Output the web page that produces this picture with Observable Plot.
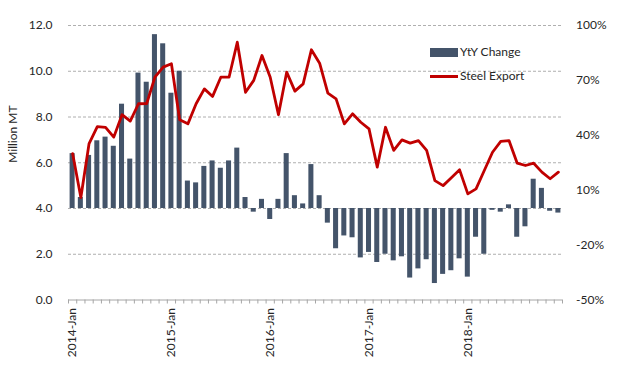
<!DOCTYPE html>
<html><head><meta charset="utf-8">
<script src="https://cdn.jsdelivr.net/npm/d3@7"></script>
<script src="https://cdn.jsdelivr.net/npm/@observablehq/plot@0.6"></script>
<style>
body{margin:0;background:#fff;font-family:Lato,sans-serif;}
#wrap{position:relative;width:621px;height:373px;}
.lg{position:absolute;font:12px Lato,sans-serif;color:#262626;line-height:14px;white-space:nowrap;}
.sw{position:absolute;}
</style></head><body><div id="wrap"></div>
<script>
const years = [2014, 2015, 2016, 2017, 2018];
const monthNames = ["Jan","Feb","Mar","Apr","May","Jun","Jul","Aug","Sep","Oct","Nov","Dec"];
// YtY change, percent (right axis)
const yoyChange = [
  30, 6, 29, 37, 39, 34, 57, 27, 74, 69, 95, 90,
  63, 75, 15, 14, 23, 26, 22, 26, 33, 6, -2, 5,
  -6, 5, 30, 7, 2.5, 24, 7, -8, -22, -15, -16, -27,
  -24, -29.5, -25, -28.6, -26.4, -38, -33, -28, -41, -36, -34, -27.5,
  -37.5, -15.7, -25, -1, -2, 2, -15.7, -10, 16, 11, -1.5, -2.5
];
// Steel export, million MT (left axis)
const steelExport = [
  6.4, 4.48, 6.84, 7.58, 7.55, 7.12, 8.1, 7.82, 8.58, 8.59, 9.74, 10.18,
  10.33, 7.88, 7.7, 8.58, 9.23, 8.9, 9.74, 9.74, 11.27, 9.08, 9.6, 10.69,
  9.74, 8.1, 9.96, 9.13, 9.45, 10.94, 10.35, 9.04, 8.79, 7.7, 8.14, 7.77,
  7.48, 5.81, 7.55, 6.54, 7.0, 6.86, 6.97, 6.54, 5.22, 5.0, 5.34, 5.69,
  4.64, 4.86, 5.66, 6.46, 6.93, 6.97, 5.98, 5.88, 5.98, 5.59, 5.3, 5.59
];
const leftTicks = [0, 2, 4, 6, 8, 10, 12];
const rightTicks = [-50, -20, 10, 40, 70, 100];
const seriesNames = ["YtY Change", "Steel Export"];
const yAxisTitle = "Million MT";
const barColor = "#44546A", lineColor = "#C00000";

const months = years.flatMap(y => monthNames.map(m => `${y}-${m}`));
const data = months.map((m, i) => ({i, month: m, yoy: yoyChange[i], exp: steelExport[i]}));
// right axis: -50% aligns with 0.0, 100% with 12.0 on the left axis
const pctToY = p => (p + 50) / 12.5;
const yToPct = v => Math.round(v * 12.5 - 50);
const janIdx = months.map((m, i) => i).filter(i => i % 12 === 0);

const chart = Plot.plot({
  width: 621, height: 373,
  marginLeft: 68, marginRight: 59, marginTop: 25, marginBottom: 73.5,
  x: {type: "linear", domain: [0, months.length], axis: null},
  y: {domain: [0, 12], axis: null},
  style: {fontFamily: "Lato, sans-serif", fontSize: "12px", color: "#262626", background: "#fff"},
  marks: [
    Plot.ruleY(leftTicks.filter(t => t > 0), {stroke: "#9a9a9a", strokeDasharray: "3,2", strokeWidth: 0.8}),
    Plot.rect(data, {x1: d => d.i, x2: d => d.i + 1, y1: d => pctToY(0), y2: d => pctToY(d.yoy), fill: barColor, insetLeft: 1.6, insetRight: 1.6}),
    Plot.line(data, {x: d => d.i + 0.5, y: "exp", stroke: lineColor, strokeWidth: 2.8, strokeLinejoin: "round"}),
    Plot.ruleY([0], {stroke: "#a6a6a6", strokeWidth: 1}),
    Plot.axisX({ticks: d3.range(0, months.length + 1), tickSize: 4, tickFormat: () => "", stroke: "#a6a6a6"}),
    Plot.axisX({ticks: janIdx.map(i => i + 0.5), tickFormat: v => months[Math.round(v - 0.5)], tickSize: 0, tickRotate: -90, tickPadding: 8, label: null}),
    Plot.axisY({ticks: leftTicks, tickFormat: d => d.toFixed(1), tickSize: 0, tickPadding: 16, label: null}),
    Plot.axisY({anchor: "right", ticks: rightTicks.map(pctToY), tickFormat: v => yToPct(v) + "%", tickSize: 0, tickPadding: 13.5, label: null}),
    Plot.text([yAxisTitle], {text: d => d, frameAnchor: "left", rotate: -90, dx: -55, fontSize: 12, fill: "#262626"})
  ]
});
const wrap = document.getElementById("wrap");
wrap.appendChild(chart);
const legend = [
  {name: seriesNames[0], top: 48, sw: `background:${barColor};top:48px;height:9px;`},
  {name: seriesNames[1], top: 70, sw: `background:${lineColor};top:75px;height:3px;`}
];
legend.forEach(l => {
  const s = document.createElement("div");
  s.className = "sw";
  s.style.cssText = l.sw + "left:430px;width:28px;";
  wrap.appendChild(s);
  const t = document.createElement("div");
  t.className = "lg";
  t.textContent = l.name;
  t.style.left = "460px";
  t.style.top = (l.name === seriesNames[0] ? 45 : 69) + "px";
  wrap.appendChild(t);
});
</script></body></html>
